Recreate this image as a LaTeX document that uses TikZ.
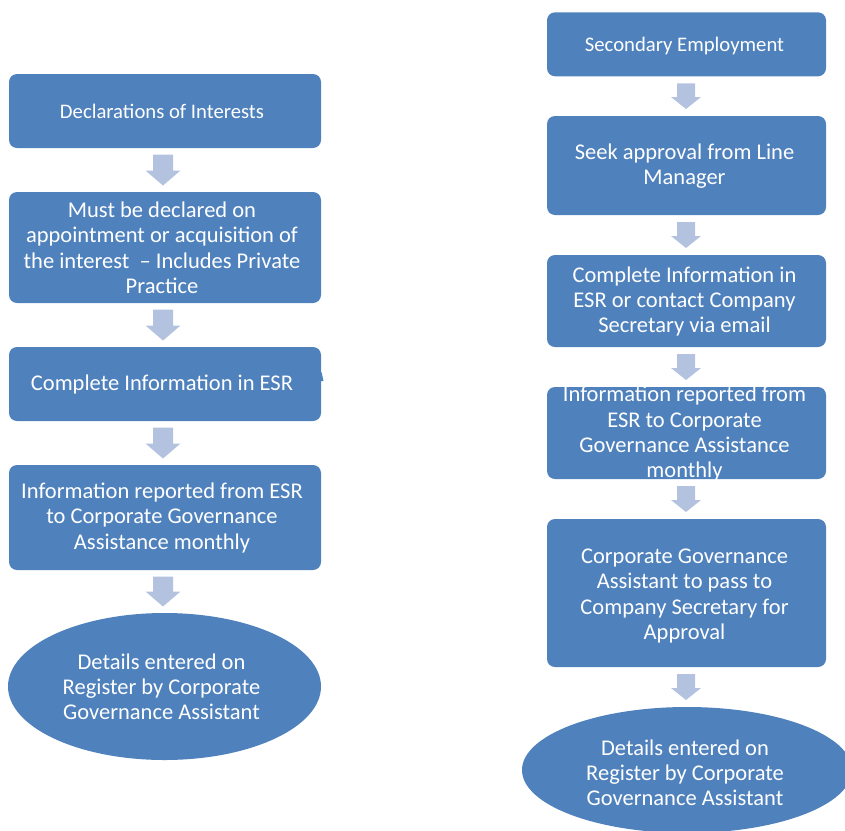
\documentclass[tikz,border=0pt]{standalone}
\usepackage{fontspec}
\setmainfont{Carlito}
\usetikzlibrary{shapes.geometric,calc}
\definecolor{boxblue}{HTML}{4F81BD}
\definecolor{arrowblue}{HTML}{B3C3DF}
\newcommand{\bigtxt}{\fontsize{22.5}{25.3}\selectfont}
\newcommand{\smalltxt}{\fontsize{20.7}{25.3}\selectfont}
% [horizontal shift x2 (to the left), vertical shift x2 (down)] width, text
\newcommand{\ctext}[4][6pt]{\parbox[c][0pt][c]{#3}{\centering\rightskip=#1 plus 1fil\vspace*{#2}#4}}
% from, to, shaft half, head half, head length, gap top, gap bottom, x offset
\newcommand{\blockarrow}[8]{%
  \fill[arrowfill] let \p1=($(#1.south)+(#8pt,-#6pt)$), \p2=($(#2.north)+(0,#7pt)$) in
   (\x1-#3pt,\y1) -- (\x1+#3pt,\y1) -- (\x1+#3pt,\y2+#5pt) -- (\x1+#4pt,\y2+#5pt)
   -- (\x1,\y2) -- (\x1-#4pt,\y2+#5pt) -- (\x1-#3pt,\y2+#5pt) -- cycle;}
\begin{document}
\begin{tikzpicture}[x=1pt,y=-1pt,
  box/.style={rectangle, rounded corners=8pt, fill=boxblue, text=white, inner sep=0pt, outer sep=0pt},
  oval/.style={ellipse, fill=boxblue, text=white, inner sep=0pt, outer sep=0pt},
  arrowfill/.style={fill=arrowblue},
  leftbox/.style={box, minimum width=312pt},
  rightbox/.style={box, minimum width=279pt}]
\useasboundingbox (0,0) rectangle (845,830);
\clip (0,0) rectangle (845,830);
% left column
\node[leftbox, minimum height=74pt, font=\smalltxt] (L1) at (165,111) {\ctext{6pt}{300pt}{Declarations of Interests}};
\node[leftbox, minimum height=111pt, font=\bigtxt] (L2) at (165,247.5) {\ctext{6pt}{305pt}{Must be declared on\\appointment or acquisition of\\the interest \ – Includes Private\\Practice}};
\node[leftbox, minimum height=74pt, font=\bigtxt] (L3) at (165,384) {\ctext{6pt}{305pt}{Complete Information in ESR}};
\node[leftbox, minimum height=105pt, font=\bigtxt] (L4) at (165,517.5) {\ctext{6pt}{305pt}{Information reported from ESR\\to Corporate Governance\\Assistance monthly}};
\node[oval, minimum width=313pt, minimum height=147pt, font=\bigtxt] (L5) at (164.5,686.5) {\ctext{6pt}{220pt}{Details entered on\\Register by Corporate\\Governance Assistant}};
\fill[boxblue] ($(L3.east)+(-4,-3)$) -- ($(L3.east)+(0.5,-12)$) -- ($(L3.east)+(2.5,-3)$) -- cycle;
% right column
\node[rightbox, minimum height=64pt, font=\smalltxt] (R1) at (686.5,44.3) {\ctext[4pt]{9pt}{270pt}{Secondary Employment}};
\node[rightbox, minimum height=99pt, font=\bigtxt] (R2) at (686.5,165.5) {\ctext[4pt]{6pt}{275pt}{Seek approval from Line\\Manager}};
\node[rightbox, minimum height=92pt, font=\bigtxt] (R3) at (686.5,301) {\ctext[4pt]{6pt}{275pt}{Complete Information in\\ESR or contact Company\\Secretary via email}};
\node[rightbox, minimum height=92pt, font=\bigtxt] (R4) at (686.5,433) {\ctext[4pt]{7pt}{275pt}{Information reported from\\ESR to Corporate\\Governance Assistance\\monthly}};
\node[rightbox, minimum height=148pt, font=\bigtxt] (R5) at (686.5,593) {\ctext[4pt]{11pt}{275pt}{Corporate Governance\\Assistant to pass to\\Company Secretary for\\Approval}};
\node[oval, minimum width=330pt, minimum height=126pt, font=\bigtxt] (R6) at (687,770) {\ctext[4pt]{11pt}{230pt}{Details entered on\\Register by Corporate\\Governance Assistant}};
% arrows left
\blockarrow{L1}{L2}{10}{17.5}{15}{6.5}{6.5}{-2}
\blockarrow{L2}{L3}{10}{17.5}{15}{6.5}{6.5}{-2}
\blockarrow{L3}{L4}{10}{17.5}{15}{6.5}{6.5}{-2}
\blockarrow{L4}{L5}{10}{17.5}{15}{6.5}{6.5}{-2}
% arrows right
\blockarrow{R1}{R2}{9}{15}{12}{7}{7}{-0.5}
\blockarrow{R2}{R3}{9}{15}{12}{7}{7}{-0.5}
\blockarrow{R3}{R4}{9}{15}{12}{7}{7}{-0.5}
\blockarrow{R4}{R5}{9}{15}{12}{7}{7}{-0.5}
\blockarrow{R5}{R6}{9}{15}{12}{7}{7}{-0.5}
\end{tikzpicture}
\end{document}
